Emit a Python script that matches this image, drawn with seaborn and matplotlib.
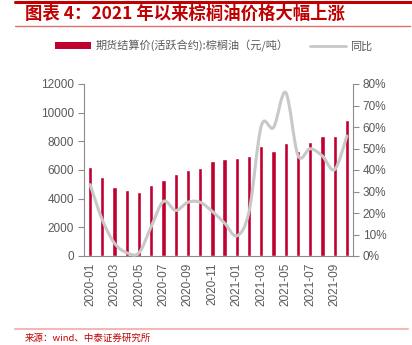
import numpy as np
import pandas as pd
import matplotlib
matplotlib.use("Agg")
import matplotlib.pyplot as plt
import seaborn as sns
from matplotlib.path import Path
from matplotlib.patches import PathPatch, Patch
from matplotlib.lines import Line2D
from matplotlib.ticker import FixedLocator, PercentFormatter

months = ["2020-01", "2020-02", "2020-03", "2020-04", "2020-05", "2020-06",
          "2020-07", "2020-08", "2020-09", "2020-10", "2020-11", "2020-12",
          "2021-01", "2021-02", "2021-03", "2021-04", "2021-05", "2021-06",
          "2021-07", "2021-08", "2021-09", "2021-10"]
price = [6210, 5540, 4810, 4610, 4490, 4950, 5330, 5740, 6000, 6120, 6630,
         6740, 6840, 6980, 7670, 7350, 7910, 7300, 7950, 8400, 8370, 9490]
yoy = [33.2, 16.8, 5.9, 1.5, 1.5, 13.7, 25.4, 21.2, 25.0, 25.0, 20.7, 15.3,
       9.4, 20.7, 60.5, 59.8, 76.0, 46.8, 49.9, 46.5, 40.2, 55.8]
tick_labels = months[::2]
left_ticks = [0, 2000, 4000, 6000, 8000, 10000, 12000]
right_ticks = [0, 10, 20, 30, 40, 50, 60, 70, 80]

BAR = "#C00030"
LINE = "#C8C8C8"
GREY = "#8C8C8C"
TXT = "#595959"
RED = "#C00000"

sns.set_theme(style="white")
plt.rcParams["font.family"] = ["Noto Sans CJK SC", "DejaVu Sans"]

W, H = 412, 345
fig = plt.figure(figsize=(W / 100, H / 100), dpi=100)
ax = fig.add_axes([84 / W, 1 - 256 / H, (353 - 84) / W, (256 - 84) / H])

df = pd.DataFrame({"month": months, "price": price})
sns.barplot(data=df, x="month", y="price", color=BAR, width=0.35,
            saturation=1, ax=ax)
ax.set_xlim(-0.5, len(months) - 0.5)
ax.set_ylim(0, 12000)
ax.set_xlabel("")
ax.set_ylabel("")
ax.set_yticks(left_ticks)
ax.set_yticklabels([str(v) for v in left_ticks], fontsize=8.5, color=TXT,
                   family=["Liberation Sans", "DejaVu Sans"])
ax.set_xticks(range(0, len(months), 2))
ax.set_xticklabels(tick_labels, rotation=90, fontsize=8.5, color=TXT,
                   family=["Liberation Sans", "DejaVu Sans"])
ax.xaxis.set_minor_locator(FixedLocator(np.arange(-0.5, len(months), 2)))
ax.tick_params(axis="x", which="major", length=0, pad=5)
ax.tick_params(axis="x", which="minor", length=4, color=GREY, width=0.8,
               direction="out")
ax.tick_params(axis="y", length=4, color=GREY, width=0.8, direction="out",
               left=True, pad=3)
for s in ["left", "bottom"]:
    ax.spines[s].set_color(GREY)
    ax.spines[s].set_linewidth(0.8)
ax.spines["top"].set_visible(False)
ax.spines["right"].set_visible(False)

ax2 = ax.twinx()
ax2.set_ylim(0, 80)
ax2.set_yticks(right_ticks)
ax2.yaxis.set_major_formatter(PercentFormatter(decimals=0))
for lab in ax2.get_yticklabels():
    lab.set_fontsize(8.5)
    lab.set_color(TXT)
    lab.set_family(["Liberation Sans", "DejaVu Sans"])
ax2.tick_params(axis="y", length=4, color=GREY, width=0.8, direction="out",
                right=True, pad=3)
for s in ["left", "top", "bottom"]:
    ax2.spines[s].set_visible(False)
ax2.spines["right"].set_color(GREY)
ax2.spines["right"].set_linewidth(0.8)
ax2.grid(False)
ax.grid(False)

# smoothed line (Catmull-Rom as cubic Bezier, like Excel smoothed lines)
xs = np.arange(len(yoy), dtype=float)
ys = np.array(yoy, dtype=float)
pts = np.column_stack([xs, ys])
verts = [tuple(pts[0])]
codes = [Path.MOVETO]
n = len(pts)
for i in range(n - 1):
    p0 = pts[i - 1] if i > 0 else pts[i]
    p1 = pts[i]
    p2 = pts[i + 1]
    p3 = pts[i + 2] if i + 2 < n else pts[i + 1]
    c1 = p1 + (p2 - p0) / 6.0
    c2 = p2 - (p3 - p1) / 6.0
    verts += [tuple(c1), tuple(c2), tuple(p2)]
    codes += [Path.CURVE4] * 3
ax2.add_patch(PathPatch(Path(verts, codes), facecolor="none", edgecolor=LINE,
                        lw=2.2, capstyle="round", clip_on=False))

# legend
handles = [Patch(facecolor=BAR, edgecolor="none"),
           Line2D([0], [0], color=LINE, lw=2)]
labels = ["期货结算价(活跃合约):棕榈油（元/吨）", "同比"]
fig.legend(handles, labels, loc="center", bbox_to_anchor=(214 / W, 1 - 46 / H),
           ncol=2, frameon=False, fontsize=8, labelcolor=TXT,
           handlelength=3.2, handleheight=0.6, columnspacing=2.0,
           handletextpad=0.4)

# title and decorations
fig.add_artist(Line2D([15 / W, 1.0], [1 - 1.5 / H] * 2, color=RED, lw=2.2))
fig.text(25 / W, 1 - 14 / H, "图表 4：2021 年以来棕榈油价格大幅上涨",
         color=RED, fontsize=12.5, fontweight="bold", style="italic",
         va="center", ha="left")
fig.add_artist(Line2D([15 / W, 410 / W], [1 - 25.5 / H] * 2, color="#E07070",
                      lw=1))
fig.add_artist(Line2D([15 / W, 408 / W], [1 - 328.5 / H] * 2, color="#F2B8B8",
                      lw=1.5))
fig.text(25 / W, 1 - 338.5 / H, "来源：wind、中泰证券研究所", color=RED,
         fontsize=6.8, va="center", ha="left")

fig.savefig("out.png", dpi=100)
